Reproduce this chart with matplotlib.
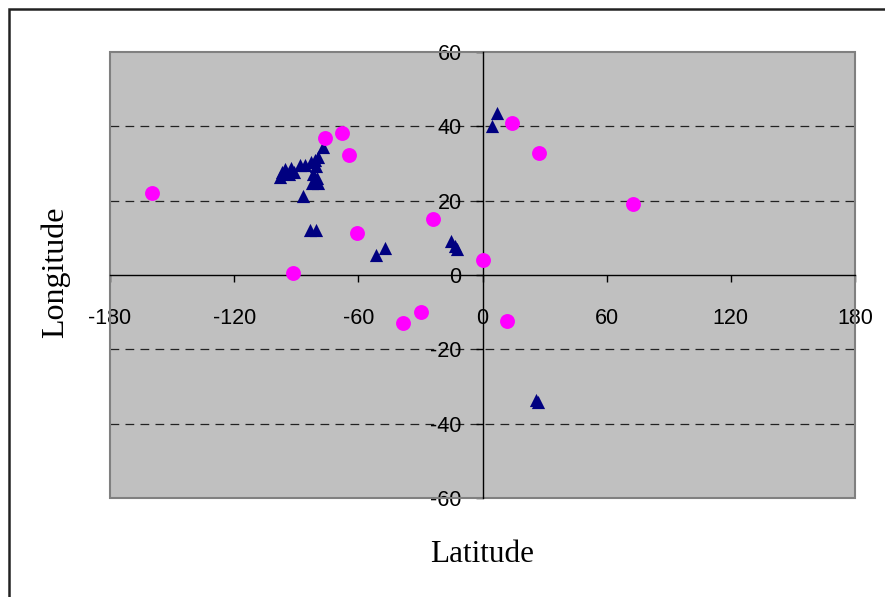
import matplotlib
matplotlib.use("Agg")
import matplotlib.pyplot as plt
from matplotlib.patches import Rectangle

plt.rcParams["axes.unicode_minus"] = False

# circles (magenta)
circ_lat = [-159.7, -91.6, -76.1, -67.9, -64.5, -60.7, -38.4, -29.7, -23.9, 0.2, 11.8, 14.3, 27.3, 72.7]
circ_lon = [22.1, 0.5, 36.9, 38.2, 32.3, 11.3, -12.9, -10.0, 15.1, 4.0, -12.4, 40.9, 32.8, 19.1]

# triangles (navy)
tri_lat = [-97.9, -96.9, -95.5, -92.6, -93.5, -91.1, -88.2, -85.8, -82.9, -81.0, -79.5, -80.5,
           -81.9, -80.0, -82.4, -79.5, -86.8, -83.4, -80.5, -77.1, -51.5, -47.1, -15.2, -13.3,
           -12.3, 4.6, 7.0, 25.9, 26.8]
tri_lon = [26.4, 27.7, 28.5, 28.8, 27.2, 27.7, 29.6, 29.6, 30.4, 30.9, 31.7, 29.3,
           27.2, 26.1, 24.8, 24.8, 21.3, 12.1, 12.1, 34.4, 5.4, 7.3, 9.1, 7.8,
           7.0, 40.1, 43.6, -33.6, -34.2]

xticks = [-180, -120, -60, 0, 60, 120, 180]
yticks = [-60, -40, -20, 0, 20, 40, 60]
grid_y = [-40, -20, 20, 40]

fig = plt.figure(figsize=(8.85, 5.97), dpi=100)
# outer chart border, runs off the right and bottom edges
fig.patches.append(Rectangle((8.5 / 885, -0.05), 1.1, 1 - 8.5 / 597 + 0.05,
                             transform=fig.transFigure, fill=False, edgecolor="#222222", lw=1.8))

ax = fig.add_axes([110 / 885, 1 - 498 / 597, 745 / 885, 446 / 597])
ax.set_facecolor("#C0C0C0")
ax.set_xlim(-180, 180)
ax.set_ylim(-60, 60)

for gy in grid_y:
    ax.axhline(gy, color="#222222", lw=0.9, dashes=(7, 5), zorder=1)

ax.scatter(tri_lat, tri_lon, marker="^", s=90, color="#000080", zorder=3, linewidths=0)
ax.scatter(circ_lat, circ_lon, marker="o", s=115, color="#FF00FF", zorder=3, linewidths=0)

for side in ("top", "right"):
    ax.spines[side].set_visible(False)
ax.spines["left"].set_position(("data", 0))
ax.spines["bottom"].set_position(("data", 0))
ax.spines["left"].set_linewidth(1.0)
ax.spines["bottom"].set_linewidth(1.0)
ax.add_patch(Rectangle((0, 0), 1, 1, transform=ax.transAxes, fill=False,
                       edgecolor="#808080", lw=1.5, zorder=2, clip_on=False))

ax.set_xticks(xticks)
ax.set_yticks(yticks)
ax.tick_params(axis="both", direction="out", length=5, width=1,
               labelsize=15.5, labelfontfamily="Liberation Sans")
ax.tick_params(axis="x", pad=19)
ax.tick_params(axis="y", pad=10)

fig.text(482 / 885, 1 - 555 / 597, "Latitude", family="Liberation Serif", fontsize=22.5,
         ha="center", va="center")
fig.text(55 / 885, 1 - 272 / 597, "Longitude", family="Liberation Serif", fontsize=23,
         ha="center", va="center", rotation=90)

fig.savefig("out.png", dpi=100)
